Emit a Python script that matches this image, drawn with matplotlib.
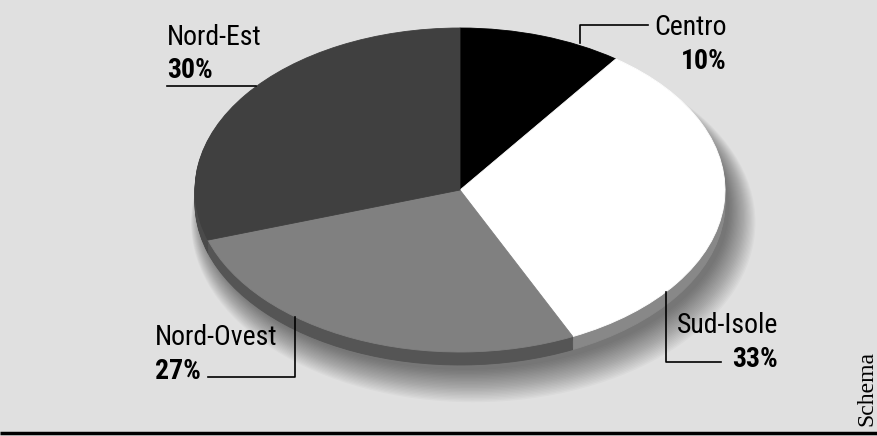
import matplotlib
matplotlib.use("Agg")
import matplotlib.pyplot as plt
from matplotlib import font_manager
from matplotlib.patches import Ellipse
import numpy as np

# ---- data ----
categories = ["Centro", "Sud-Isole", "Nord-Ovest", "Nord-Est"]
values = [10, 33, 27, 30]
top_colors = ["#000000", "#ffffff", "#808080", "#404040"]
side_colors = ["#111111", "#888888", "#555555", "#4a4a4a"]
source = "Schema"

# ---- fonts ----
names = sorted({f.name for f in font_manager.fontManager.ttflist})
def pick(cands):
    for n in cands:
        if n in names:
            return n
    return "DejaVu Sans"

narrow = pick(["Liberation Sans Narrow", "Roboto Condensed", "DejaVu Sans Condensed", "Liberation Sans"])
serif = pick(["Liberation Serif", "DejaVu Serif"])

W, H = 878, 436
BG = "#e0e0e0"
fig = plt.figure(figsize=(W / 100, H / 100), dpi=100, facecolor=BG)

# pie axes: ellipse bounding box in pixels
x0, x1, y0, y1 = 195, 725, 28, 352
ax = fig.add_axes([x0 / W, 1 - y1 / H, (x1 - x0) / W, (y1 - y0) / H])
ax.set_facecolor("none")
ry_px = (y1 - y0) / 2
thick = 13 / ry_px  # side thickness in data units

# soft shadow
n_sh = 24
for i in range(n_sh):
    s = (i + 1) / n_sh
    e = Ellipse((0.02 + 0.03 * s, -thick - 0.03 - 0.09 * s),
                2 * (0.99 + 0.075 * s), 2 * (0.99 + 0.12 * s),
                facecolor="black", edgecolor="none", alpha=0.025, zorder=0, clip_on=False)
    ax.add_patch(e)

# side layers
steps = 14
for k in range(steps, 0, -1):
    off = thick * k / steps
    ws, _ = ax.pie(values, colors=side_colors, startangle=90, counterclock=False,
                   radius=1, center=(0, -off),
                   wedgeprops=dict(linewidth=0.6, antialiased=True))
    for w, c in zip(ws, side_colors):
        w.set_edgecolor(c)
        w.set_zorder(1)
        w.set_clip_on(False)

# top face
ws, _ = ax.pie(values, colors=top_colors, startangle=90, counterclock=False,
               radius=1, center=(0, 0), wedgeprops=dict(linewidth=0.6))
for w, c in zip(ws, top_colors):
    w.set_edgecolor(c)
    w.set_zorder(2)
    w.set_clip_on(False)

ax.set_aspect("auto")
ax.set_xlim(-1, 1)
ax.set_ylim(-1, 1)
ax.axis("off")

# overlay axes in pixel coordinates
ov = fig.add_axes([0, 0, 1, 1])
ov.set_xlim(0, W)
ov.set_ylim(H, 0)
ov.axis("off")
ov.set_facecolor("none")

fs_name = 20
fs_pct = 20
TC = "#000000"
lab = {c: v for c, v in zip(categories, values)}

# Nord-Est
ov.text(167, 45, "Nord-Est", fontsize=fs_name, family=narrow, ha="left", va="baseline", color=TC)
ov.text(167, 78, f"{lab['Nord-Est']}%", fontsize=fs_pct, family=narrow, weight="bold", ha="left", va="baseline", color=TC)
ov.plot([167, 256], [86, 86], color=TC, lw=1.2)

# Centro
ov.text(727, 35, "Centro", fontsize=fs_name, family=narrow, ha="right", va="baseline", color=TC)
ov.text(727, 69, f"{lab['Centro']}%", fontsize=fs_pct, family=narrow, weight="bold", ha="right", va="baseline", color=TC)
ov.plot([580, 580, 648], [43, 25, 25], color=TC, lw=1.2)

# Sud-Isole
ov.text(778, 333, "Sud-Isole", fontsize=fs_name, family=narrow, ha="right", va="baseline", color=TC)
ov.text(778, 367, f"{lab['Sud-Isole']}%", fontsize=fs_pct, family=narrow, weight="bold", ha="right", va="baseline", color=TC)
ov.plot([666, 666, 721], [292, 362, 362], color=TC, lw=1.2)

# Nord-Ovest
ov.text(155, 345, "Nord-Ovest", fontsize=fs_name, family=narrow, ha="left", va="baseline", color=TC)
ov.text(155, 379, f"{lab['Nord-Ovest']}%", fontsize=fs_pct, family=narrow, weight="bold", ha="left", va="baseline", color=TC)
ov.plot([208, 295, 295], [377, 377, 317], color=TC, lw=1.2)

# bottom rule
ov.plot([0, W], [432.5, 432.5], color="black", lw=2.5, solid_capstyle="butt")

# source
ov.text(877, 388, source, fontsize=17, family=serif, rotation=90, ha="right", va="center", color=TC)

fig.savefig("out.png", dpi=100, facecolor=BG)
